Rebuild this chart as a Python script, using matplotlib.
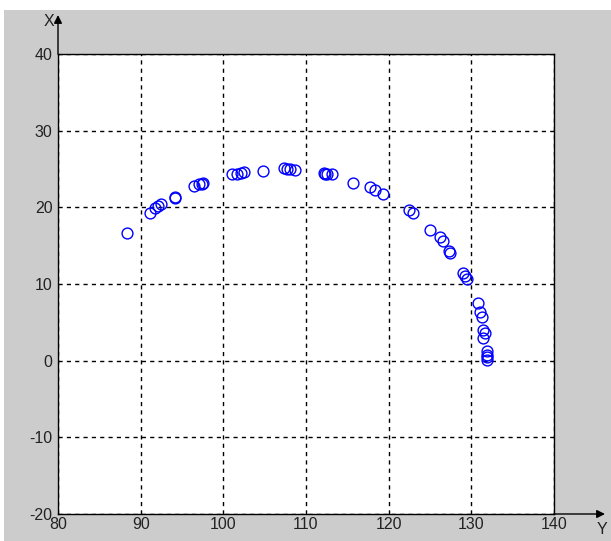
import matplotlib
matplotlib.use('Agg')
import matplotlib.pyplot as plt
from matplotlib.patches import Rectangle

plt.rcParams['axes.unicode_minus'] = False

# valores (eixo horizontal = Y, eixo vertical = X)
y_vals = [88.4, 91.1, 91.7, 92.1, 92.5, 94.1, 94.2, 96.4, 97.1, 97.4, 97.6,
          101.1, 101.6, 102.1, 102.5, 104.8, 107.3, 107.7, 108.1, 108.7,
          112.2, 112.3, 112.5, 113.2, 115.7, 117.7, 118.3, 119.3, 122.4, 122.9,
          125.0, 126.2, 126.6, 127.3, 127.4, 128.95, 129.2, 129.5, 130.8, 131.0,
          131.25, 131.45, 131.65, 131.45, 131.85, 131.85, 131.85, 131.9]
x_vals = [16.7, 19.2, 19.9, 20.2, 20.4, 21.2, 21.4, 22.8, 23.0, 23.1, 23.2,
          24.35, 24.4, 24.5, 24.65, 24.8, 25.1, 25.0, 25.0, 24.9,
          24.5, 24.4, 24.35, 24.3, 23.2, 22.7, 22.3, 21.7, 19.6, 19.3,
          17.0, 16.1, 15.6, 14.3, 14.0, 11.4, 11.0, 10.7, 7.5, 6.4,
          5.7, 4.0, 3.6, 2.9, 1.2, 0.8, 0.5, 0.1]
xticks = [80, 90, 100, 110, 120, 130, 140]
yticks = [-20, -10, 0, 10, 20, 30, 40]

W, H = 611, 541
fig = plt.figure(figsize=(W / 100, H / 100), dpi=100, facecolor='white')

# fundo cinza estilo MATLAB
fig.patches.append(Rectangle((4 / W, 0), 1 - 4 / W, 1 - 10 / H,
                             transform=fig.transFigure, facecolor='#cccccc',
                             edgecolor='none', zorder=-10))

ax = fig.add_axes([58 / W, 27 / H, 496 / W, 460 / H])
ax.set_facecolor('white')
ax.plot(y_vals, x_vals, 'o', markerfacecolor='none', markeredgecolor='blue',
        markersize=7.8, markeredgewidth=1.0)

ax.set_xlim(80, 140)
ax.set_ylim(-20, 40)
ax.set_xticks(xticks)
ax.set_yticks(yticks)
ax.grid(True, color='black', linestyle=(0, (3, 3)), linewidth=1)
ax.tick_params(length=0, labelsize=11.5, pad=4)
for lab in ax.get_xticklabels() + ax.get_yticklabels():
    lab.set_fontfamily('Liberation Sans')
    lab.set_color('#222222')
ax.tick_params(axis='x', pad=2)
for s in ax.spines.values():
    s.set_color('black')
    s.set_linewidth(1)

# setas dos eixos
ax.annotate('', xy=(58 / W, 1 - 15 / H), xytext=(58 / W, 1 - 54 / H),
            xycoords='figure fraction', textcoords='figure fraction',
            arrowprops=dict(arrowstyle='-|>', color='black', lw=1,
                            mutation_scale=12, shrinkA=0, shrinkB=0))
ax.annotate('', xy=(605 / W, 27 / H), xytext=(554 / W, 27 / H),
            xycoords='figure fraction', textcoords='figure fraction',
            arrowprops=dict(arrowstyle='-|>', color='black', lw=1,
                            mutation_scale=12, shrinkA=0, shrinkB=0))
fig.text(49 / W, 1 - 22 / H, 'X', ha='center', va='center', fontsize=11.5,
         family='Liberation Sans', color='#222222')
fig.text(602 / W, 1 - 530 / H, 'Y', ha='center', va='center', fontsize=11.5,
         family='Liberation Sans', color='#222222')

fig.savefig('out.png', dpi=100)
